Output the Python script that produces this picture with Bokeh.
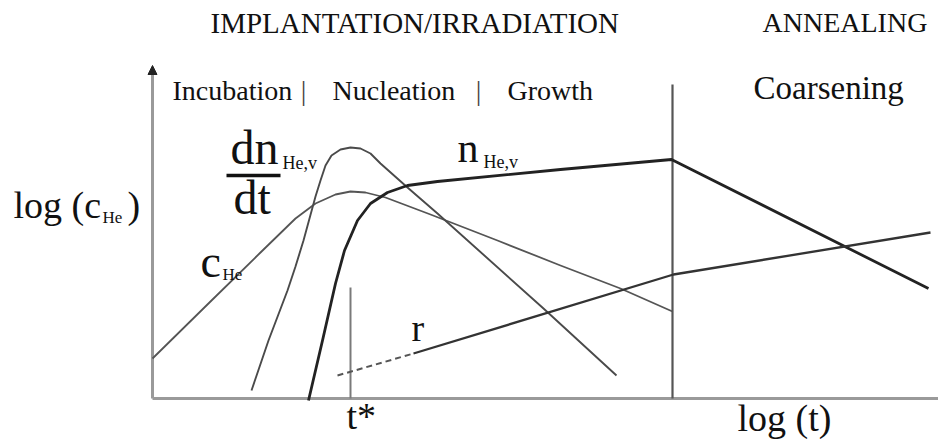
from bokeh.plotting import figure
from bokeh.models import Range1d, Arrow, NormalHead
from bokeh.core.properties import value
from bokeh.embed import file_html
from bokeh.resources import INLINE

# ---- schematic data (x = log t units, y = log c units; origin at axes corner) ----
c_he_t = [0, 58, 108, 143, 163, 183, 198, 213, 233, 278, 345, 408, 468, 520]
c_he_y = [40, 97, 146, 180, 195, 204, 207, 206, 201, 184, 158, 133, 110, 87]

dndt_t = [99, 116, 135, 143, 151, 157, 163, 168, 173, 179, 188, 198, 208, 218, 228, 255, 285, 391, 464]
dndt_y = [8, 58, 108, 132, 158, 180, 202, 218, 233, 243, 249, 251, 250, 245, 235, 211, 185, 90, 23]

n_t = [156, 170, 183, 192, 205, 218, 235, 255, 285, 408, 519, 776]
n_y = [-2, 58, 115, 148, 178, 195, 206, 213, 217, 229, 239, 110]

r_dash_t = [185, 261]
r_dash_y = [23, 45]
r_t = [261, 521, 778]
r_y = [45, 124, 166]

t_star = [198]
t_star_top = [111]
t_anneal = [520]
anneal_top = [314]
y_axis_top = [333]
x_axis_end = [790]

phases = ["Incubation", "|", "Nucleation", "|", "Growth"]
headers = ["IMPLANTATION/IRRADIATION", "ANNEALING"]

FONT = value("Liberation Serif")
TXT = "#111111"

p = figure(width=938, height=439, output_backend="svg", toolbar_location=None,
           x_range=Range1d(-152, 786), y_range=Range1d(-41, 398),
           x_axis_location=None, y_axis_location=None, min_border=0,
           outline_line_color=None)
p.xgrid.visible = False
p.ygrid.visible = False

# axes
p.line([0, x_axis_end[0]], [0, 0], line_color="#9a9a9a", line_width=3)
p.line([0, 0], [0, y_axis_top[0] - 6], line_color="#9a9a9a", line_width=3)
p.add_layout(Arrow(end=NormalHead(size=9, fill_color="#222222", line_color="#222222"),
                   x_start=0, y_start=y_axis_top[0] - 8, x_end=0, y_end=y_axis_top[0],
                   line_width=0, line_alpha=0))

# structural lines
p.line([t_anneal[0], t_anneal[0]], [0, anneal_top[0]], line_color="#555555", line_width=2.2)
p.line([t_star[0], t_star[0]], [0, t_star_top[0]], line_color="#7a7a7a", line_width=2)

# curves
p.line(c_he_t, c_he_y, line_color="#555555", line_width=1.8, line_join="round")
p.line(dndt_t, dndt_y, line_color="#4a4a4a", line_width=1.9, line_join="round")
p.line(n_t, n_y, line_color="#222222", line_width=2.8, line_join="round")
p.line(r_dash_t, r_dash_y, line_color="#555555", line_width=2, line_dash="6 4")
p.line(r_t, r_y, line_color="#333333", line_width=2.3, line_join="round")

def txt(x, base, s, size, color=TXT, align="left"):
    # anchor raised so that the glyph baseline lands on `base`
    p.text(x=[x], y=[base + 0.34 * size], text=[s], text_font=FONT,
           text_font_size=value(f"{size}px"), text_color=color,
           text_align=align, text_baseline="alphabetic")

# headers
txt(58, 366, headers[0], 29)
txt(610, 366, headers[1], 28)

# phases
txt(20, 298, phases[0], 28)
txt(151, 298, phases[1], 28, color="#444444", align="center")
txt(180, 298, phases[2], 28)
txt(326, 298, phases[3], 28, color="#444444", align="center")
txt(355, 298, phases[4], 28)
txt(601, 299, "Coarsening", 33)

# y label
txt(-139, 181, "log (c", 38)
txt(-50, 175, "He", 17)
txt(-25, 181, ")", 38)

# dn/dt
txt(78, 235, "dn", 48)
p.line([74, 128], [223, 223], line_color="#111111", line_width=3.5)
txt(81, 185, "dt", 48)
txt(130, 229, "He,v", 18)

# n_He,v
txt(305, 236, "n", 42)
txt(331, 230, "He,v", 18)

# c_He
txt(48, 121, "c", 46)
txt(70, 118, "He", 17)

# r
txt(259, 58, "r", 38)

# x labels
txt(194, -30, "t*", 38)
txt(585, -32, "log (t)", 38)

open("out.html", "w").write(file_html(p, INLINE))
